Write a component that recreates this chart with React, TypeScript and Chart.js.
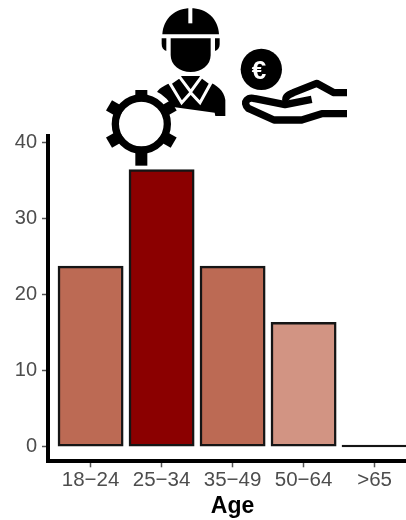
import React, { useEffect, useRef } from "react";
import { Chart, registerables } from "chart.js";

Chart.register(...registerables);

const categories = ["18−24", "25−34", "35−49", "50−64", ">65"];
const positions = [0, 1, 2, 3, 4];
const values = [23.6, 36.3, 23.6, 16.2, 0];
const colors = ["#BC6A54", "#8B0000", "#BC6A54", "#D29483", "#151515"];
const yTicks = [0, 10, 20, 30, 40];

const FONT = "'Liberation Sans', Arial, sans-serif";

function Icons() {
  const teeth = [60, 120, 240, 300];
  return (
    <svg
      width={406}
      height={180}
      viewBox="0 0 1218 540"
      style={{ position: "absolute", left: 0, top: 0, pointerEvents: "none" }}
    >
      {/* helmet */}
      <path d="M487 103 C490 55 525 25 572 25 C620 25 654 55 657 103 Z" fill="#000" />
      <rect x="565" y="22" width="12" height="48" fill="#fff" />
      <path d="M485 115 H499 V153 C490 150 485 143 485 132 Z" fill="#000" />
      <path d="M659 115 H645 V153 C654 150 659 143 659 132 Z" fill="#000" />
      {/* face */}
      <path d="M512 115 H632 V165 C632 195 605 216 572 216 C539 216 512 195 512 165 Z" fill="#000" />
      {/* body */}
      <path d="M467 285 C472 265 495 255 520 245 L545 228 H598 L625 245 C650 255 672 270 676 300 V348 H646 L644 338 L525 322 L490 315 Z" fill="#000" />
      <path d="M510 250 L538 230 L572 275 L605 230 L632 250 L600 308 L572 278 L545 308 Z" fill="#000" stroke="#fff" strokeWidth="9" strokeLinejoin="miter" />
      {/* gear */}
      <g transform="translate(424 372)">
        <circle r="84" fill="none" stroke="#fff" strokeWidth="46" />
        {teeth.map((a) => (
          <rect key={a} x="-18" y="-112" width="36" height="44" fill="#000" transform={`rotate(${a})`} />
        ))}
        <rect x="-18" y="-102" width="36" height="34" fill="#000" />
        <rect x="-18" y="72" width="36" height="53" fill="#000" />
        <circle r="78" fill="none" stroke="#000" strokeWidth="22" />
      </g>
      {/* coin */}
      <circle cx="784" cy="208" r="62" fill="#000" />
      <text x="777" y="236" fontFamily={FONT} fontWeight="700" fontSize="78" fill="#fff" textAnchor="middle">€</text>
      {/* hand */}
      <path d="M1041 341 H965 L905 360 H822 L745 325 C725 305 745 290 765 296 L855 314 L935 298" fill="none" stroke="#000" strokeWidth="22" strokeLinejoin="round" />
      <path d="M1041 278 H1002 L950 250 L880 278 C860 285 852 295 862 305" fill="none" stroke="#000" strokeWidth="22" strokeLinejoin="round" />
    </svg>
  );
}

export default function App() {
  const ref = useRef<HTMLCanvasElement>(null);

  useEffect(() => {
    if (!ref.current) return;
    const chart = new Chart(ref.current, {
      type: "bar",
      data: {
        datasets: [
          {
            data: positions.map((x, i) => ({ x, y: values[i] })),
            backgroundColor: colors,
            borderColor: "#151515",
            borderWidth: 2.5,
            borderSkipped: false,
            inflateAmount: 1,
            barPercentage: 0.9,
            categoryPercentage: 1,
            minBarLength: 0.5,
          },
        ],
      },
      options: {
        responsive: false,
        animation: false,
        layout: { autoPadding: false, padding: { top: 136, right: 12.8, left: 0, bottom: 0 } },
        plugins: { legend: { display: false }, tooltip: { enabled: false } },
        scales: {
          x: {
            type: "linear",
            offset: false,
            min: -0.6,
            max: 4.6,
            afterFit: (s: any) => { s.height = 58.7; },
            grid: { offset: false, drawOnChartArea: false, drawTicks: true, tickLength: 6, tickColor: "#555", tickWidth: 1.5 },
            border: { display: true, width: 4, color: "#000" },
            ticks: {
              stepSize: 1,
              includeBounds: false,
              maxRotation: 0,
              autoSkip: false,
              padding: 1,
              color: "#4d4d4d",
              font: { family: FONT, size: 20.5 },
              callback: (v: any) => categories[positions.indexOf(Number(v))] ?? "",
            },
            title: {
              display: true,
              text: "Age",
              color: "#000",
              font: { family: FONT, size: 23, weight: "bold" },
              padding: { top: 1, bottom: 0 },
            },
          },
          y: {
            type: "linear",
            min: -2,
            max: 40.8,
            afterFit: (s: any) => { s.width = 48; },
            grid: { drawOnChartArea: false, drawTicks: true, tickLength: 6, tickColor: "#555", tickWidth: 1.5 },
            border: { display: true, width: 4, color: "#000" },
            afterBuildTicks: (s: any) => { s.ticks = yTicks.map((value) => ({ value })); },
            ticks: {
              padding: 5,
              color: "#4d4d4d",
              font: { family: FONT, size: 20 },
            },
          },
        },
      } as any,
    });
    return () => chart.destroy();
  }, []);

  return (
    <div style={{ position: "fixed", left: 0, top: 0, width: 406, height: 520, overflow: "hidden", background: "#fff" }}>
      <canvas ref={ref} width={430} height={520} style={{ display: "block" }} />
      <Icons />
    </div>
  );
}
